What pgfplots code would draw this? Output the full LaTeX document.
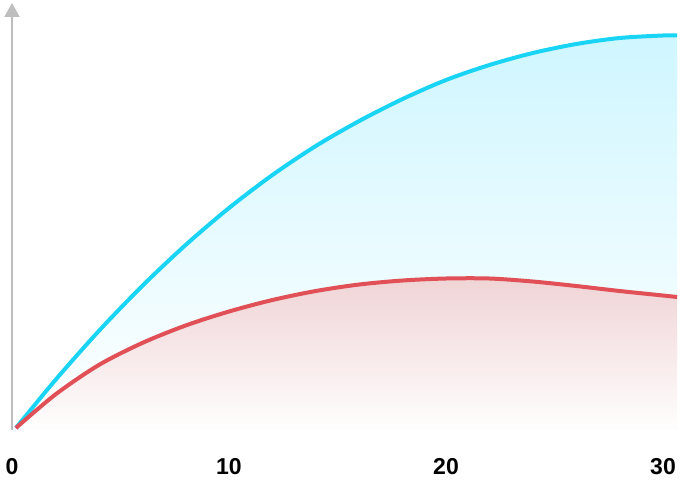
\documentclass[border=0pt]{standalone}
\usepackage{pgfplots}
\pgfplotsset{compat=1.18}
\usepackage{pgfplotstable}
\usepackage{fontspec}
\setmainfont{Liberation Sans}
\usetikzlibrary{arrows.meta}

\definecolor{blueline}{RGB}{25,212,245}
\definecolor{bluefill}{RGB}{207,246,255}
\definecolor{redline}{RGB}{224,80,86}
\definecolor{redfill}{RGB}{240,212,214}
\definecolor{axisgray}{RGB}{190,190,190}

\pgfplotstableread{
x y
0.18 2
2 50
4 99
6 144
8 185
10 222
12 255
14 284
16 309
18 331
20 350
22 365
24 377
26 386
28 392
30 394.5
30.65 394.5
}\blue

\pgfplotstableread{
x y
0.18 2
2 35.5
4 65
6 87
8 104.5
10 118.5
12 130
14 139
16 145.5
18 149.5
20 151.5
22 151.5
24 148.5
26 144
28 139
30 134.5
30.65 133
}\red

\begin{document}
\begin{tikzpicture}
\begin{axis}[
	scale only axis,
	width=651pt, height=427pt,
	xmin=0, xmax=30, ymin=0, ymax=427,
	clip=false,
	axis lines=left,
	x axis line style={draw=none},
	y axis line style={draw=axisgray, line width=2.5pt, -{Triangle[width=15pt,length=14pt]}},
	ytick=\empty,
	xtick={0,10,20,30},
	xticklabels={0,10,20,30},
	major tick length=0pt,
	xticklabel style={font=\bfseries\fontsize{23}{23}\selectfont, anchor=center, yshift=-37pt},
]
	\addplot[draw=none, top color=bluefill, bottom color=white, smooth] table {\blue} \closedcycle;
	\addplot[draw=none, top color=redfill, bottom color=white!97!redfill, smooth] table {\red} \closedcycle;
	\addplot[color=blueline, line width=4pt, smooth] table {\blue};
	\addplot[color=redline, line width=4pt, smooth] table {\red};
\end{axis}
\pgfresetboundingbox
\path (-12pt,-53pt) rectangle (673pt,430pt);
\end{tikzpicture}
\end{document}
